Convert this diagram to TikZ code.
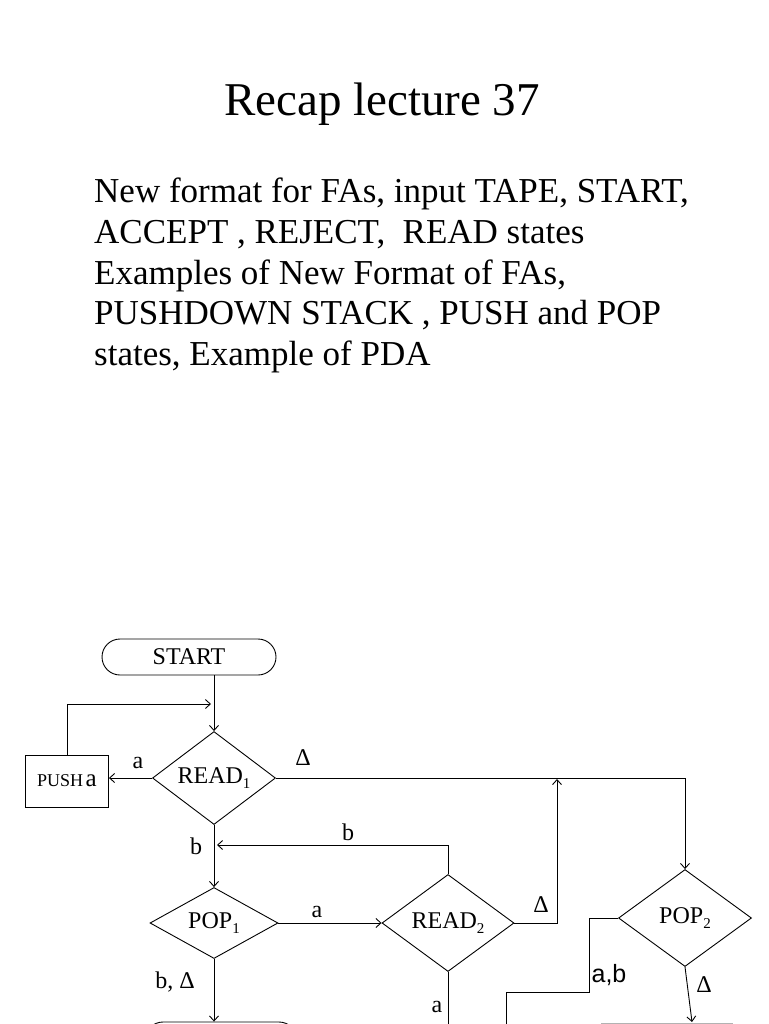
\documentclass[tikz,border=0pt]{standalone}
\usepackage{fontspec}
\setmainfont{Liberation Serif}
\setsansfont{Liberation Sans}
\usetikzlibrary{shapes.geometric,arrows.meta}
\newcommand\mysub[1]{\raisebox{-0.4ex}{\fontsize{15}{15}\selectfont #1}}
\tikzset{
  conn/.style={line width=0.9pt},
  flow/.style={conn, -{Straight Barb[length=5pt,width=9pt,line width=0.9pt]}},
  decision/.style={diamond, draw, line width=0.9pt, inner sep=0pt, aspect=1.4,
    font=\fontsize{24}{24}\selectfont},
  terminal/.style={rectangle, rounded corners=18pt, draw, line width=0.9pt,
    inner sep=0pt, font=\fontsize{24}{24}\selectfont},
  lab/.style={inner sep=0pt, font=\fontsize{24}{24}\selectfont},
  bodyline/.style={anchor=base west, inner sep=0pt, font=\fontsize{35}{40}\selectfont},
}
\begin{document}
\begin{tikzpicture}[x=1pt,y=-1pt]
\useasboundingbox[fill=white] (0,0) rectangle (768,1024);
\clip (0,0) rectangle (768,1024);

% header text
\node[anchor=base, inner sep=0pt, font=\fontsize{47}{54}\selectfont] (title) at (382,116) {Recap lecture 37};
\node[bodyline] (l1) at (94,203) {New format for FAs, input TAPE, START,};
\node[bodyline] (l2) at (94,243.5) {ACCEPT , REJECT,\ \ READ states};
\node[bodyline] (l3) at (94,284) {Examples of New Format of FAs,};
\node[bodyline] (l4) at (94,324.5) {PUSHDOWN STACK , PUSH and POP};
\node[bodyline] (l5) at (94,365) {states, Example of PDA};

% nodes
\node[terminal, minimum width=174pt, minimum height=36pt] (start) at (189,657) {START};
\node[decision, minimum width=123pt, minimum height=93pt] (read1) at (214,778) {READ\mysub{1}};
\node[draw, rectangle, line width=0.9pt, inner sep=0pt, minimum width=83pt, minimum height=52pt] (push) at (67,781)
  {{\fontsize{18}{18}\selectfont PUSH} {\fontsize{25}{25}\selectfont a}};
\node[decision, minimum width=128pt, minimum height=71pt] (pop1) at (214,923) {POP\mysub{1}};
\node[decision, minimum width=132pt, minimum height=97pt] (read2) at (448,923) {READ\mysub{2}};
\node[decision, minimum width=133pt, minimum height=97pt] (pop2) at (685,918) {POP\mysub{2}};
\node[terminal, minimum width=152pt, minimum height=40pt] (accept) at (221,1042) {};
\node[draw=gray!60, line width=0.9pt, rectangle, minimum width=131pt, minimum height=40pt] (bottom) at (667,1043) {};

% helper coordinates
\coordinate (loopend) at (211,704);
\coordinate (bjoin) at (217,845);
\coordinate (djoin) at (557,779);
\coordinate (abbend) at (589,992);
\coordinate (abend) at (506,1060);
\coordinate (aend) at (448,1060);
\coordinate (p2end) at (692,1022);

% connectors
\draw[flow] (read1.north |- start.south) -- (read1.north);
\draw[flow] (push.north) |- (loopend);
\draw[flow] (read1.west) -- (read1.west -| push.east);
\draw[flow] (read1.east) -| (pop2.north);
\draw[flow] (read1.south) -- (pop1.north);
\draw[flow] (read2.north) |- (bjoin);
\draw[flow] (pop1.east) -- (read2.west);
\draw[flow] (read2.east) -| (djoin);
\draw[conn] (pop2.west) -| (abbend) -| (abend);
\draw[conn] (read2.south) -- (aend);
\draw[flow] (pop1.south) -- (pop1.south |- accept.north);
\draw[flow] (pop2.south) -- (p2end);

% labels
\node[lab] (la1) at (138,763) {a};
\node[lab] (ld1) at (303,758) {Δ};
\node[lab] (lb1) at (196,846) {b};
\node[lab] (lb2) at (348,832) {b};
\node[lab] (la2) at (317,912) {a};
\node[lab] (ld2) at (541,905) {Δ};
\node[lab] (lbd) at (175,982) {b, Δ};
\node[lab] (la3) at (437,1007) {a};
\node[lab, font=\sffamily\fontsize{25}{25}\selectfont] (lab3) at (609,975) {a,b};
\node[lab] (ld3) at (704,985) {Δ};
\end{tikzpicture}
\end{document}
